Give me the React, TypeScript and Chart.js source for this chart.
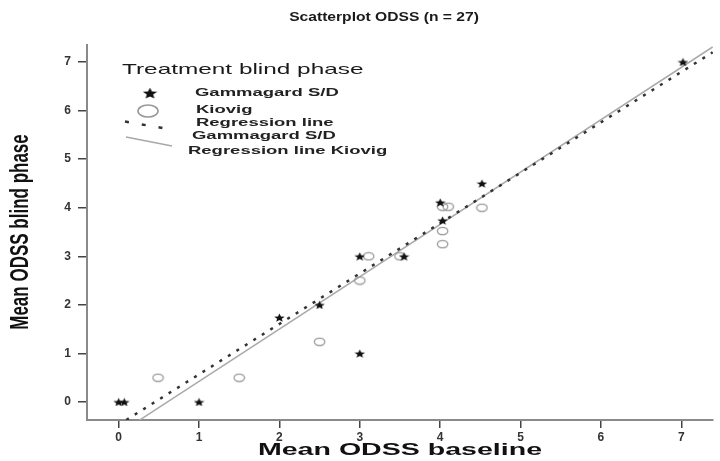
import React, { useEffect, useRef } from "react";
import { Chart, registerables } from "chart.js";

Chart.register(...registerables);

// ---- data ----
const gammaX = [0, 0.07, 1, 2, 2.5, 3, 3, 3.55, 4, 4.03, 4.52, 7.02];
const gammaY = [0, 0, 0, 1.74, 2, 3, 1, 3, 4.11, 3.74, 4.5, 7];
const kiovigX = [0.49, 1.5, 2.5, 3, 3.11, 3.5, 4.03, 4.1, 4.03, 4.03, 4.52];
const kiovigY = [0.5, 0.5, 1.24, 2.5, 3, 3, 4.02, 4.02, 3.52, 3.25, 4];
const gammaRegX = [0.095, 7.39];
const gammaRegY = [-0.37, 7.2];
const kiovigRegX = [0.235, 7.39];
const kiovigRegY = [-0.4, 7.31];
const xTicks = [0, 1, 2, 3, 4, 5, 6, 7];
const yTicks = [0, 1, 2, 3, 4, 5, 6, 7];

const chartTitle = "Scatterplot ODSS (n = 27)";
const xTitle = "Mean ODSS baseline";
const yTitle = "Mean ODSS blind phase";
const legendTitle = "Treatment blind phase";
const legendItems = ["Gammagard S/D", "Kiovig", "Regression line", "Gammagard S/D", "Regression line Kiovig"];

const SX = 1.68; // horizontal stretch of the original figure
const FONT = "'Liberation Sans', Arial, sans-serif";

function pairs(xs: number[], ys: number[]) {
  return xs.map((x, i) => ({ x, y: ys[i] }));
}

function makeStar(w: number, h: number, color: string) {
  const c = document.createElement("canvas");
  c.width = w;
  c.height = h;
  const ctx = c.getContext("2d")!;
  ctx.fillStyle = color;
  ctx.beginPath();
  const cx = w / 2, cy = h / 2 + h * 0.06;
  for (let i = 0; i < 10; i++) {
    const r = i % 2 === 0 ? 1 : 0.45;
    const a = -Math.PI / 2 + (i * Math.PI) / 5;
    const px = cx + Math.cos(a) * r * (w / 2);
    const py = cy + Math.sin(a) * r * (h / 2);
    if (i === 0) ctx.moveTo(px, py);
    else ctx.lineTo(px, py);
  }
  ctx.closePath();
  ctx.fill();
  return c;
}

function makeRing(w: number, h: number, color: string, lw: number) {
  const c = document.createElement("canvas");
  c.width = w;
  c.height = h;
  const ctx = c.getContext("2d")!;
  ctx.strokeStyle = color;
  ctx.lineWidth = lw;
  ctx.beginPath();
  ctx.ellipse(w / 2, h / 2, w / 2 - lw, h / 2 - lw, 0, 0, Math.PI * 2);
  ctx.stroke();
  return c;
}

function drawStretched(
  ctx: CanvasRenderingContext2D,
  text: string,
  x: number,
  y: number,
  font: string,
  sx: number,
  align: CanvasTextAlign,
  color: string
) {
  ctx.save();
  ctx.font = font;
  ctx.fillStyle = color;
  ctx.textBaseline = "middle";
  ctx.textAlign = align;
  ctx.translate(x, y);
  ctx.scale(sx, 1);
  ctx.fillText(text, 0, 0);
  ctx.restore();
}

const decorPlugin = {
  id: "decor",
  afterDraw(chart: any) {
    const ctx: CanvasRenderingContext2D = chart.ctx;
    const area = chart.chartArea;
    // chart title
    drawStretched(ctx, chartTitle, 384, 18, `bold 12.5px ${FONT}`, 1.25, "center", "#1a1a1a");
    // x axis title
    drawStretched(ctx, xTitle, (area.left + area.right) / 2, 450, `bold 17px ${FONT}`, SX, "center", "#111");
    // y axis title (rotated, glyphs stretched horizontally)
    ctx.save();
    ctx.font = `bold 17px ${FONT}`;
    ctx.fillStyle = "#111";
    ctx.textAlign = "center";
    ctx.textBaseline = "middle";
    ctx.translate(21, 232);
    ctx.rotate(-Math.PI / 2);
    ctx.scale(1, 1.5);
    ctx.fillText(yTitle, 0, 0);
    ctx.restore();

    // legend
    drawStretched(ctx, legendTitle, 122, 70, `14.5px ${FONT}`, SX, "left", "#1a1a1a");
    const lf = `bold 11px ${FONT}`;
    drawStretched(ctx, legendItems[0], 195, 93, lf, SX, "left", "#222");
    drawStretched(ctx, legendItems[1], 196, 110, lf, SX, "left", "#222");
    drawStretched(ctx, legendItems[2], 196, 123, lf, SX, "left", "#222");
    drawStretched(ctx, legendItems[3], 192, 136, lf, SX, "left", "#222");
    drawStretched(ctx, legendItems[4], 188, 151, lf, SX, "left", "#222");

    // legend symbols
    const star = makeStar(15, 12, "#111");
    ctx.drawImage(star, 150 - 7.5, 93 - 6);
    ctx.save();
    ctx.strokeStyle = "#9a9a9a";
    ctx.lineWidth = 1.6;
    ctx.beginPath();
    ctx.ellipse(148, 111, 10, 6, 0, 0, Math.PI * 2);
    ctx.stroke();
    ctx.strokeStyle = "#333";
    ctx.lineWidth = 2.5;
    ctx.setLineDash([4, 13]);
    ctx.beginPath();
    ctx.moveTo(125, 121.5);
    ctx.lineTo(168, 129);
    ctx.stroke();
    ctx.setLineDash([]);
    ctx.strokeStyle = "#a8a8a8";
    ctx.lineWidth = 1.5;
    ctx.beginPath();
    ctx.moveTo(126, 137);
    ctx.lineTo(172, 146);
    ctx.stroke();
    ctx.restore();
  },
};

export default function App() {
  const ref = useRef<HTMLCanvasElement | null>(null);

  useEffect(() => {
    if (!ref.current) return;
    const starImg = makeStar(11, 9, "#111");
    const ringImg = makeRing(13, 10, "#9a9a9a", 1.3);

    const tickFont = { family: FONT, size: 12, weight: "bold" as const };

    const chart = new Chart(ref.current, {
      type: "scatter",
      data: {
        datasets: [
          {
            label: "Gammagard S/D",
            data: pairs(gammaX, gammaY),
            pointStyle: starImg as any,
            pointRadius: 5,
            order: 0,
          },
          {
            label: "Kiovig",
            data: pairs(kiovigX, kiovigY),
            pointStyle: ringImg as any,
            pointRadius: 6,
            order: 1,
          },
          {
            label: "Regression line Gammagard S/D",
            data: pairs(gammaRegX, gammaRegY),
            showLine: true,
            borderColor: "#333",
            borderWidth: 2.5,
            borderDash: [3, 7],
            borderCapStyle: "butt",
            pointRadius: 0,
            clip: 0,
            order: 2,
          } as any,
          {
            label: "Regression line Kiovig",
            data: pairs(kiovigRegX, kiovigRegY),
            showLine: true,
            borderColor: "#aaaaaa",
            borderWidth: 1.5,
            pointRadius: 0,
            clip: 0,
            order: 3,
          } as any,
        ],
      },
      options: {
        animation: false,
        responsive: false,
        layout: { padding: { top: 45, left: 0, right: 0, bottom: 0 } },
        plugins: {
          legend: { display: false },
          title: { display: false },
          tooltip: { enabled: false },
        },
        scales: {
          x: {
            type: "linear",
            min: -0.394,
            max: 7.394,
            afterBuildTicks: (s: any) => {
              s.ticks = xTicks.map((v) => ({ value: v }));
            },
            afterFit: (s: any) => {
              s.height = 41;
            },
            ticks: { font: tickFont, color: "#333", padding: 2 },
            grid: { drawOnChartArea: false, drawTicks: true, tickLength: 8, color: "#444", lineWidth: 1.5 },
            border: { display: true, color: "#8a8a8a", width: 2 },
          },
          y: {
            type: "linear",
            min: -0.371,
            max: 7.35,
            afterBuildTicks: (s: any) => {
              s.ticks = yTicks.map((v) => ({ value: v }));
            },
            afterFit: (s: any) => {
              s.width = 87;
            },
            ticks: { font: tickFont, color: "#333", padding: 7 },
            grid: { drawOnChartArea: false, drawTicks: true, tickLength: 9, color: "#444", lineWidth: 1.5 },
            border: { display: true, color: "#8a8a8a", width: 2 },
          },
        },
      },
      plugins: [decorPlugin],
    });
    return () => chart.destroy();
  }, []);

  return (
    <div style={{ position: "fixed", left: 0, top: 0, width: 720, height: 461, background: "#fff" }}>
      <canvas ref={ref} width={720} height={461} style={{ width: 720, height: 461, display: "block" }} />
    </div>
  );
}
